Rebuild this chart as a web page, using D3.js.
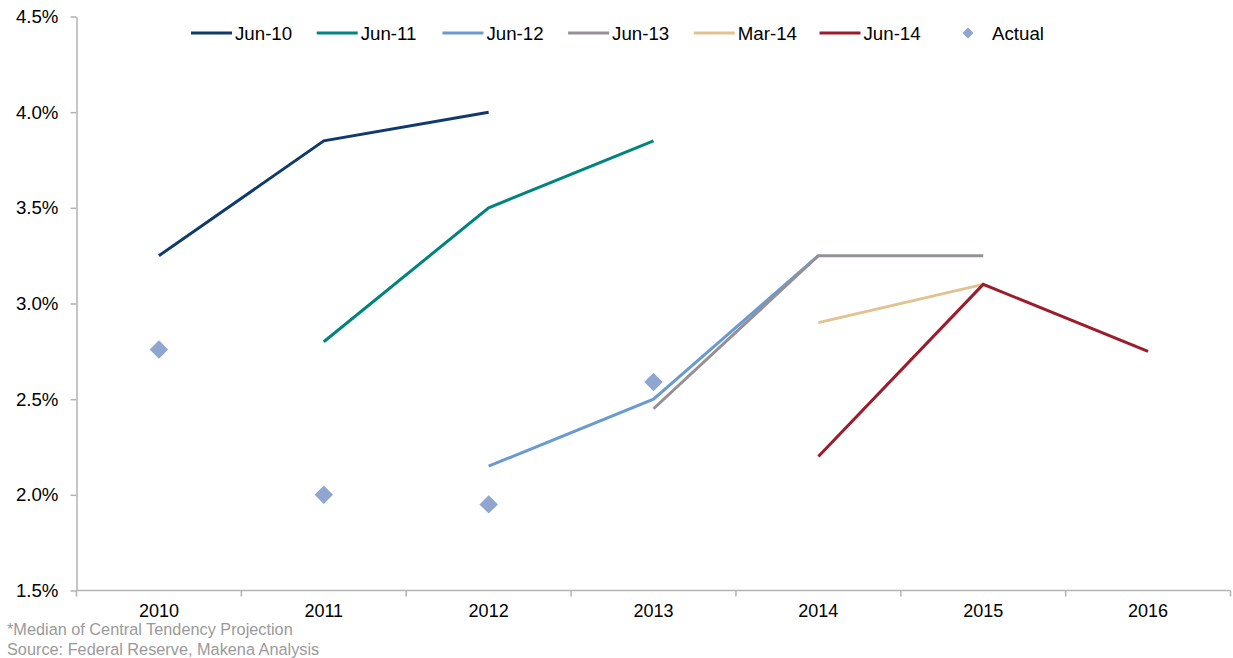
<!DOCTYPE html>
<html>
<head>
<meta charset="utf-8">
<script src="https://cdn.jsdelivr.net/npm/d3@7"></script>
<style>
  body { margin: 0; background: #fff; }
  svg { font-family: "Liberation Sans", Arial, sans-serif; }
</style>
</head>
<body>
<script>
// data
var years = ["2010", "2011", "2012", "2013", "2014", "2015", "2016"];
var seriesNames = ["Jun-10", "Jun-11", "Jun-12", "Jun-13", "Mar-14", "Jun-14"];
var seriesColors = ["#0f3a6b", "#00847c", "#6a9bd0", "#958f96", "#e0c38f", "#9d1c2b"];
var jun10 = [["2010", 3.25], ["2011", 3.85], ["2012", 4.0]];
var jun11 = [["2011", 2.8], ["2012", 3.5], ["2013", 3.85]];
var jun12 = [["2012", 2.15], ["2013", 2.5], ["2014", 3.25]];
var jun13 = [["2013", 2.45], ["2014", 3.25], ["2015", 3.25]];
var mar14 = [["2014", 2.9], ["2015", 3.1]];
var jun14 = [["2014", 2.2], ["2015", 3.1], ["2016", 2.75]];
var actual = [["2010", 2.76], ["2011", 2.0], ["2012", 1.95], ["2013", 2.59]];
var yTicks = [1.5, 2.0, 2.5, 3.0, 3.5, 4.0, 4.5];
var footnotes = ["*Median of Central Tendency Projection", "Source: Federal Reserve, Makena Analysis"];

var allSeries = [jun10, jun11, jun12, jun13, mar14, jun14];

var width = 1233, height = 658;
var svg = d3.select("body").append("svg")
    .attr("width", width)
    .attr("height", height);

var x = d3.scaleBand()
    .domain(years)
    .range([76.5, 1230.5]);
var y = d3.scaleLinear()
    .domain([1.5, 4.5])
    .range([590.5, 16.5]);

// y axis
var yAxis = svg.append("g")
    .attr("transform", "translate(76.5,0)")
    .call(d3.axisLeft(y).tickValues(yTicks).tickSize(6).tickSizeOuter(0)
        .tickFormat(function(d) { return d.toFixed(1) + "%"; }));
yAxis.select(".domain").attr("stroke", "#b3b3b3").attr("stroke-width", 1.5);
yAxis.selectAll(".tick line").attr("stroke", "#b3b3b3").attr("stroke-width", 1.5);
yAxis.selectAll(".tick text")
    .attr("x", -18)
    .attr("font-size", "18.7px")
    .attr("fill", "#000");

// x axis, ticks at category boundaries
var xAxis = svg.append("g")
    .attr("transform", "translate(0,590.5)");
xAxis.append("line")
    .attr("x1", x.range()[0]).attr("x2", x.range()[1])
    .attr("stroke", "#b3b3b3").attr("stroke-width", 1.5);
var bounds = years.map(function(d) { return x(d); }).concat([x.range()[1]]);
xAxis.selectAll(".btick")
    .data(bounds)
    .enter().append("line")
    .attr("x1", function(d) { return d; })
    .attr("x2", function(d) { return d; })
    .attr("y1", 0).attr("y2", 6)
    .attr("stroke", "#b3b3b3").attr("stroke-width", 1.5);
xAxis.selectAll(".xlab")
    .data(years)
    .enter().append("text")
    .attr("x", function(d) { return x(d) + x.bandwidth() / 2; })
    .attr("y", 26.5)
    .attr("text-anchor", "middle")
    .attr("font-size", "18px")
    .attr("fill", "#000")
    .text(function(d) { return d; });

// lines
var line = d3.line()
    .x(function(d) { return x(d[0]) + x.bandwidth() / 2; })
    .y(function(d) { return y(d[1]); });

svg.selectAll(".series")
    .data(allSeries)
    .enter().append("path")
    .attr("class", "series")
    .attr("d", line)
    .attr("fill", "none")
    .attr("stroke", function(d, i) { return seriesColors[i]; })
    .attr("stroke-width", 3);

// actual diamonds
var diamond = d3.symbol().type(d3.symbolSquare).size(170);
svg.selectAll(".actual")
    .data(actual)
    .enter().append("path")
    .attr("class", "actual")
    .attr("d", diamond)
    .attr("transform", function(d) {
      return "translate(" + (x(d[0]) + x.bandwidth() / 2) + "," + y(d[1]) + ") rotate(45)";
    })
    .attr("fill", "#8fa6d0");

// legend
var legend = svg.append("g").attr("transform", "translate(191,33)");
seriesNames.forEach(function(name, i) {
  var g = legend.append("g").attr("transform", "translate(" + (i * 125.7) + ",0)");
  g.append("line")
    .attr("x1", 0).attr("x2", 41)
    .attr("stroke", seriesColors[i]).attr("stroke-width", 3);
  g.append("text")
    .attr("x", 44).attr("y", 6.5)
    .attr("font-size", "18.7px")
    .attr("fill", "#000")
    .text(name);
});
var lg = legend.append("g").attr("transform", "translate(777,0)");
lg.append("path")
  .attr("d", d3.symbol().type(d3.symbolSquare).size(60))
  .attr("transform", "rotate(45)")
  .attr("fill", "#8fa6d0");
lg.append("text")
  .attr("x", 24).attr("y", 6.5)
  .attr("font-size", "18.7px")
  .attr("fill", "#000")
  .text("Actual");

// footnotes
svg.selectAll(".foot")
    .data(footnotes)
    .enter().append("text")
    .attr("x", 7)
    .attr("y", function(d, i) { return 635 + i * 20; })
    .attr("font-size", "16.3px")
    .attr("fill", "#9a9a9a")
    .text(function(d) { return d; });
</script>
</body>
</html>
